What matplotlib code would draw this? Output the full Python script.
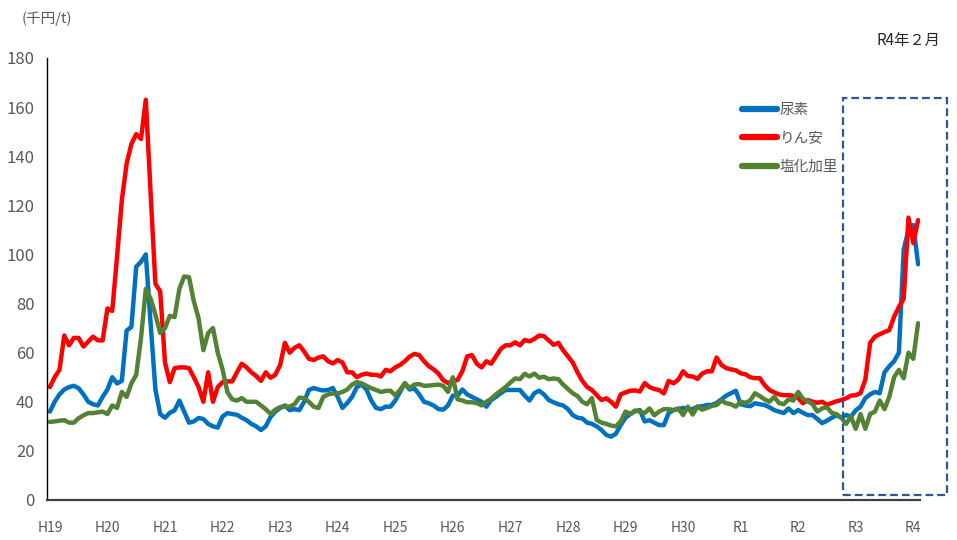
import numpy as np
import matplotlib.pyplot as plt
from matplotlib.patches import Rectangle

plt.rcParams['font.family'] = ['Liberation Sans Narrow', 'Noto Sans CJK JP', 'DejaVu Sans']

# monthly prices (千円/t), H19 Jan .. R4 Feb
urea = [36, 40, 43, 45, 46, 46.5, 45.5, 43, 40, 39, 38.5, 42,
        45, 50, 47.5, 48.5, 69, 70.5, 95, 97, 100, 72, 45, 35,
        33.5, 35.5, 36.5, 40.5, 36, 31.5, 32, 33.4, 33, 31, 30, 29.5,
        34, 35.4, 35, 34.7, 33.5, 32.5, 31, 30, 28.5, 30, 33.8, 36,
        37.5, 38.5, 36.6, 37, 36.6, 40, 44.8, 45.6, 45, 44.6, 44.8, 45.6,
        42, 37.5, 39.5, 42, 46, 47, 45, 40.5, 37.5, 37, 38, 38,
        40.5, 44, 47.5, 45, 45.4, 43, 40, 39.4, 38.5, 37, 36.8, 38.5,
        42.5, 42.5, 45, 43, 42, 41, 40, 38, 40.7, 42, 43.5, 44.8,
        44.8, 44.8, 44.8, 42.5, 40.5, 43.5, 44.5, 43, 40.7, 39.8, 39, 38.5,
        37, 34.6, 33.5, 33.2, 31.5, 31, 30, 28.5, 26.5, 25.8, 27, 30.5,
        33.5, 35, 36.2, 36.6, 32, 32.5, 31.5, 30.5, 30.5, 35.4, 36.6, 37,
        37.5, 37, 37, 38, 38.2, 38.7, 38.7, 39.5, 41, 42.5, 43.5, 44.5,
        39, 38.5, 38.2, 39.4, 39, 38.7, 37.8, 36.6, 36, 35.4, 37.3, 35.4,
        36.6, 35.5, 34.6, 34.6, 33, 31.3, 32.3, 33.5, 34.5, 33.5, 34.6, 34,
        36.5, 38, 41.5, 43, 44, 43.5, 52, 54.5, 56.5, 60, 102, 110,
        112, 96]

dap = [46, 50, 53, 67, 63, 66, 66, 62.5, 64.5, 66.5, 65, 65,
       78, 77, 99, 122, 137, 145, 149, 147, 163, 125, 88, 85,
       56, 48, 53.7, 54, 54, 53.7, 50, 46, 40, 52, 40, 46,
       48, 48.3, 48.3, 52, 55.5, 54, 52, 50.5, 48.5, 52, 49.8, 51,
       55, 64, 60, 62, 63, 60.5, 57.5, 57, 58, 58.5, 56.5, 55.6,
       57, 56, 52, 52, 50, 51, 51.5, 51, 51, 50.3, 53, 52.4,
       54, 55, 56.5, 58.4, 59.5, 59, 56.5, 54.5, 53.2, 51.5, 48.8, 47.6,
       48.5, 48.9, 52.5, 58.5, 59, 55.5, 54, 56.5, 55.5, 58.5, 61.5, 63,
       63, 64.2, 63, 65.2, 64.6, 65.6, 67, 66.7, 65, 63.2, 64, 61,
       58.5, 56, 52, 48.5, 46, 44.8, 42.7, 40.7, 41.4, 40, 38, 43,
       43.8, 44.5, 44.6, 44.2, 47.6, 46, 45.2, 44.8, 43.4, 48.5, 47.5, 49,
       52.4, 50.5, 50.3, 49.3, 51.5, 52.4, 52.4, 58, 55, 53.7, 53.2, 52.8,
       51.6, 51.2, 50, 49.6, 49.6, 46.8, 44.8, 43.8, 43, 42.7, 42.7, 42.4,
       41.5, 39.4, 40.7, 40, 39.6, 40, 38.8, 39.5, 40.2, 40.7, 41.4, 42.5,
       42.7, 43.5, 49, 64, 66.5, 67.5, 68.4, 69.2, 74.6, 78.6, 82, 115,
       104.6, 114]

potash = [31.8, 32, 32.3, 32.5, 31.5, 31.5, 33.3, 34.5, 35.4, 35.4, 35.7, 36,
          35, 38.5, 37.5, 44, 42, 47.5, 51, 66, 86, 82, 75.5, 68,
          70, 75, 74.5, 86, 91, 90.8, 81, 74, 61, 68, 70, 60,
          53.2, 44, 41, 40.5, 41.5, 40, 40, 40, 38.5, 37, 35, 36.8,
          37.8, 38, 38, 39, 41.7, 41.5, 40, 38, 37.5, 42, 43, 43.4,
          43.4, 44, 45, 47, 48, 47.5, 46.5, 45.5, 44.8, 44, 44.4, 44.5,
          42.7, 44.8, 47.6, 45.6, 47, 47.2, 46.5, 46.6, 46.8, 47, 46.5, 44,
          50, 41, 40.5, 39.8, 39.8, 39.5, 38.5, 40, 41.2, 43, 44.5, 46,
          47.8, 49.5, 49.2, 51.4, 50.3, 51.5, 49.8, 50.2, 49.2, 49.5, 49.2, 47,
          45.2, 43.5, 42.3, 40, 39, 41.5, 32.6, 31.5, 31, 30.3, 30, 32,
          36, 35, 36.4, 36, 35.4, 37.3, 34.5, 36, 37, 37, 36.6, 37.3,
          34.6, 38, 34.8, 38, 36.8, 37.5, 38.3, 38.7, 40.5, 39.4, 39, 38,
          40, 39.6, 40.5, 43.5, 42.3, 41, 40, 42, 39.5, 39, 41, 40.5,
          44, 41.2, 40.2, 39, 36, 37.3, 37.8, 35.5, 35, 33.5, 31, 34,
          29, 35, 29, 35, 36, 40.5, 37, 42, 50, 53, 49.6, 60,
          57.5, 72]

year_labels = ['H19', 'H20', 'H21', 'H22', 'H23', 'H24', 'H25', 'H26',
               'H27', 'H28', 'H29', 'H30', 'R1', 'R2', 'R3', 'R4']

fig = plt.figure(figsize=(9.57, 5.4), dpi=100)
ax = fig.add_axes([47 / 957, 40 / 540, (920 - 47) / 957, (500 - 58) / 540])

series = [(urea, '尿素', '#0070C0'),
          (dap, 'りん安', '#FF0000'),
          (potash, '塩化加里', '#548235')]
for vals, name, col in series:
    ax.plot(np.arange(len(vals)), vals, color=col, lw=3.2, label=name,
            solid_joinstyle='round', solid_capstyle='round')

ax.set_xlim(-0.6, 181.4)
ax.set_ylim(0, 180)
ax.set_yticks(np.arange(0, 181, 20))
ax.set_xticks(np.arange(len(year_labels)) * 12)
ax.set_xticklabels(year_labels)
ax.tick_params(axis='both', length=0, colors='#595959')
ax.tick_params(axis='y', labelsize=12, pad=9)
ax.tick_params(axis='x', labelsize=10, pad=15)

for s in ('top', 'right'):
    ax.spines[s].set_visible(False)
ax.spines['left'].set_color('black')
ax.spines['left'].set_linewidth(1)
ax.spines['bottom'].set_color('#404040')
ax.spines['bottom'].set_linewidth(1.6)

leg = fig.legend(loc='upper left', bbox_to_anchor=(742 / 957, 1 - 103 / 540),
                 frameon=False, handlelength=2.4, handletextpad=0.2,
                 labelspacing=1.0, borderaxespad=0, borderpad=0,
                 prop={'family': ['Noto Sans CJK JP'], 'size': 10.5})
for t in leg.get_texts():
    t.set_color('#595959')
for h in leg.legend_handles:
    h.set_linewidth(4.5)

fig.text(22 / 957, 1 - 19 / 540, '(千円/t)', ha='left', va='center',
         fontsize=10.5, color='#595959', family=['Noto Sans CJK JP'])
fig.text(940 / 957, 1 - 40 / 540, 'R4年２月', ha='right', va='center',
         fontsize=11, color='#262626', family=['Noto Sans CJK JP'])

box = Rectangle((843 / 957, 1 - 495 / 540), (947 - 843) / 957, (495 - 98) / 540,
                transform=fig.transFigure, fill=False, ec='#2F5597',
                lw=1.6, ls=(0, (3.5, 1.8)))
fig.patches.append(box)

fig.savefig('out.png', dpi=100)
